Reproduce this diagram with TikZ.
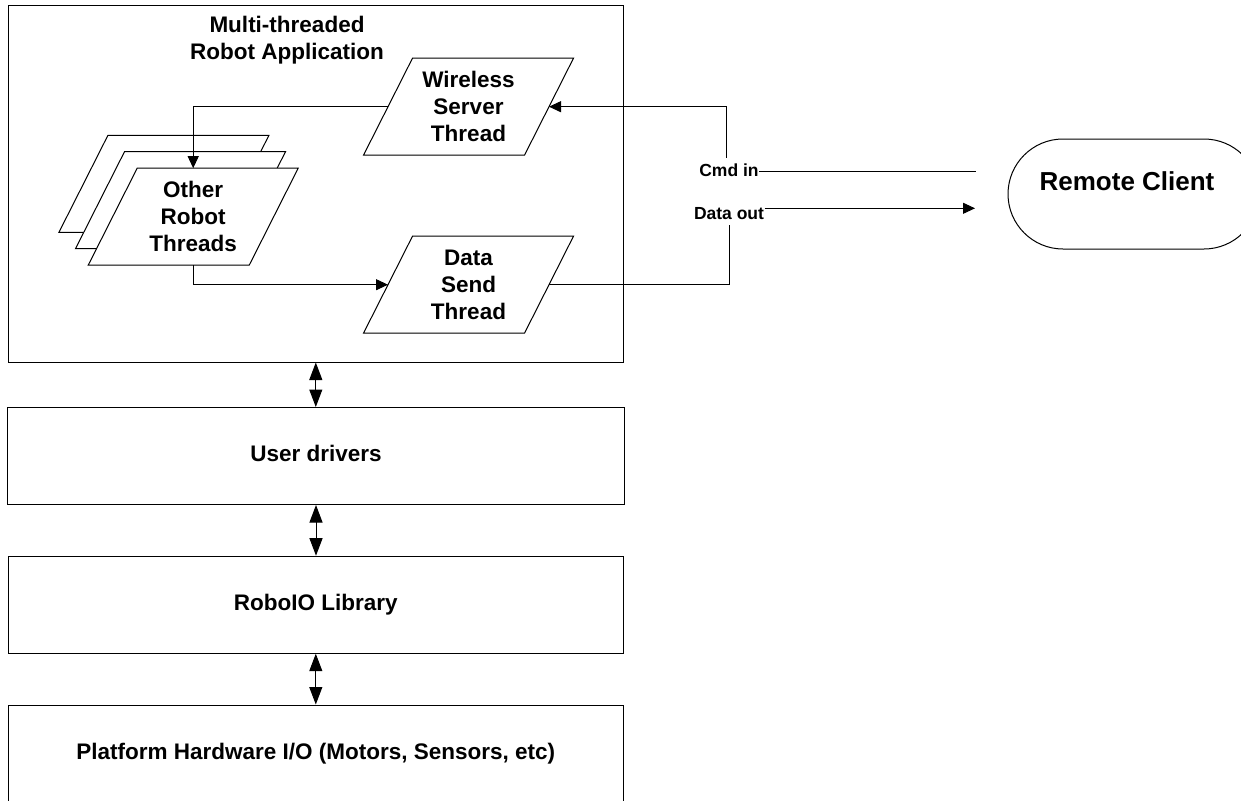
\documentclass[tikz,border=0pt]{standalone}
\usepackage{fontspec}
\setmainfont{Liberation Sans}
\usetikzlibrary{arrows.meta,calc,shapes.misc}

% slanted thread box (parallelogram) around a centre coordinate
\newcommand\threadshape[1]{%
  \draw[fill=white] ($(#1)+(-56,-48.5)$) -- ($(#1)+(105,-48.5)$)
    -- ($(#1)+(56,48.5)$) -- ($(#1)+(-105,48.5)$) -- cycle;
  \coordinate (#1-w) at ($(#1)+(-80.5,0)$);
  \coordinate (#1-e) at ($(#1)+(80.5,0)$);
  \coordinate (#1-n) at ($(#1)+(0,-48.5)$);
  \coordinate (#1-s) at ($(#1)+(0,48.5)$);
}

\begin{document}
\begin{tikzpicture}[x=1pt,y=-1pt,line width=1pt,
  bigfont/.style={font=\fontsize{22.5}{27}\selectfont\bfseries},
  smallfont/.style={font=\fontsize{17.5}{21}\selectfont\bfseries},
  layer/.style={draw,minimum width=615pt,minimum height=97pt,inner sep=0pt,
    bigfont,text height=16pt,text depth=4.6pt},
  threadtext/.style={bigfont,align=center,inner sep=0pt},
  portlabel/.style={smallfont,inner xsep=0pt,inner ysep=5pt,anchor=base},
  flow/.style={-{Triangle[length=12pt,width=11pt]}},
  link/.style={{Triangle[length=17.5pt,width=13pt]}-{Triangle[length=17.5pt,width=13pt]}},
]
\useasboundingbox (0,0) rectangle (1241,800);

% application frame
\node[draw,minimum width=615pt,minimum height=356pt,inner sep=0pt] (app) at (315.8,184) {};
\node[threadtext] (title) at (287,39.8) {Multi-threaded\\Robot Application};

% wireless server thread
\coordinate (ws) at (468.5,106.7);
\threadshape{ws}
\node[threadtext] (wstext) at (ws) {Wireless\\Server\\Thread};

% stack of other robot threads
\coordinate (ot3) at (163.9,183.9);
\threadshape{ot3}
\coordinate (ot2) at (180.5,200.2);
\threadshape{ot2}
\coordinate (ot) at (193.2,216.7);
\threadshape{ot}
\node[threadtext] (ottext) at (ot) {Other\\Robot\\Threads};

% data send thread
\coordinate (ds) at (468.5,284.7);
\threadshape{ds}
\node[threadtext] (dstext) at (ds) {Data\\Send\\Thread};

% internal flows
\draw[flow] (ws-w) -| (ot-n);
\draw[flow] (ot-s) |- (ds-w);

% remote client
\node[draw,rounded rectangle,minimum width=251pt,minimum height=110pt,inner sep=0pt] (rc) at (1133.5,194) {};
\node[bigfont,font=\fontsize{26}{30}\selectfont\bfseries,anchor=base,inner sep=0pt] (rctext) at (1127,190.7) {Remote Client};

% command and data links
\node[portlabel] (cmd) at (729,176) {Cmd in};
\node[portlabel] (dout) at (729,219.3) {Data out};
\coordinate (rcin) at (976,171.5);
\coordinate (rcout) at (975,208.3);
\draw (cmd.east |- rcin) -- (rcin);
\draw[flow] ([xshift=-2.3pt]cmd.north) |- (ws-e);
\draw[flow] (dout.east |- rcout) -- (rcout);
\draw (ds-e) -| (dout.south);

% software layers
\node[layer,minimum width=617pt] (ud) at (316,456) {User drivers};
\node[layer] (rl) at (315.8,604.7) {RoboIO Library};
\node[layer] (pf) at (315.8,753.5) {Platform Hardware I/O (Motors, Sensors, etc)};

\draw[link] (app.south) -- (app.south |- ud.north);
\draw[link] (ud.south) -- (ud.south |- rl.north);
\draw[link] (rl.south) -- (rl.south |- pf.north);
\end{tikzpicture}
\end{document}
